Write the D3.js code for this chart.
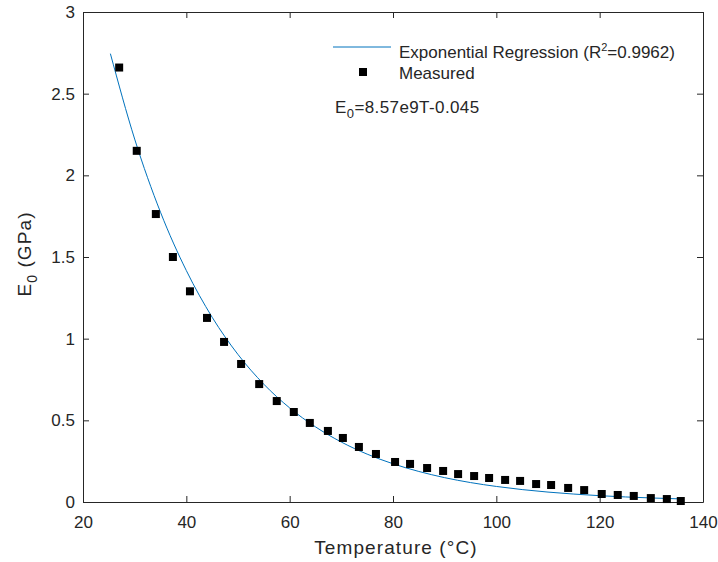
<!DOCTYPE html>
<html>
<head>
<meta charset="utf-8">
<script src="https://cdn.jsdelivr.net/npm/d3@7"></script>
<style>
body { margin: 0; background: #fff; }
text { font-family: "Liberation Sans", Arial, sans-serif; fill: #262626; }
</style>
</head>
<body>
<svg id="chart" width="718" height="562"></svg>
<script>
// measured points (temperature in C, modulus in GPa)
var tempMeasured = [27.0, 30.4, 34.1, 37.4, 40.7, 44.0, 47.3, 50.6, 54.1, 57.5, 60.8, 63.9, 67.4, 70.3, 73.4, 76.7,
  80.4, 83.3, 86.6, 89.7, 92.6, 95.7, 98.6, 101.7, 104.6, 107.7, 110.6, 113.9, 117.0, 120.4, 123.5, 126.6, 129.9, 133.0, 135.7];
var e0Measured = [2.66, 2.15, 1.763, 1.50, 1.29, 1.127, 0.98, 0.845, 0.722, 0.618, 0.551, 0.484, 0.435, 0.392, 0.337, 0.294,
  0.245, 0.233, 0.208, 0.19, 0.171, 0.159, 0.147, 0.135, 0.129, 0.110, 0.104, 0.086, 0.073, 0.049, 0.043, 0.037, 0.024, 0.018, 0.006];

// regression curve values
var tempFit = [25.3, 30, 35, 40, 45, 50, 55, 60, 65, 70, 75, 80, 85, 90, 95, 100, 105, 110, 115, 120, 125, 130, 135, 136];
var e0Fit = [2.745, 2.222, 1.774, 1.417, 1.131, 0.903, 0.721, 0.576, 0.460, 0.367, 0.293, 0.234, 0.187, 0.149, 0.119,
  0.0952, 0.0760, 0.0607, 0.0485, 0.0387, 0.0309, 0.0247, 0.0197, 0.0188];

var xTicks = [20, 40, 60, 80, 100, 120, 140];
var yTicks = [0, 0.5, 1, 1.5, 2, 2.5, 3];

var svg = d3.select("#chart");
var plotLeft = 83, plotRight = 703, plotTop = 12, plotBottom = 502;
var axisColor = "#262626";
var lineColor = "#0072BD";

var x = d3.scaleLinear().domain([20, 140]).range([plotLeft, plotRight]);
var y = d3.scaleLinear().domain([0, 3]).range([plotBottom, plotTop]);

// axes with inward ticks, mirrored on top/right
svg.append("g").attr("transform", "translate(0," + plotBottom + ")")
  .call(d3.axisBottom(x).tickValues(xTicks).tickSize(-6).tickPadding(14).tickSizeOuter(0).tickFormat(d3.format("d")))
  .call(function(g){ g.selectAll("text").style("font-size", "17px").attr("fill", axisColor); });
svg.append("g").attr("transform", "translate(0," + plotTop + ")")
  .call(d3.axisTop(x).tickValues(xTicks).tickSize(-6).tickSizeOuter(0).tickFormat(""));
svg.append("g").attr("transform", "translate(" + plotLeft + ",0)")
  .call(d3.axisLeft(y).tickValues(yTicks).tickSize(-6).tickPadding(8).tickSizeOuter(0).tickFormat(d3.format("")))
  .call(function(g){ g.selectAll("text").style("font-size", "17px").attr("fill", axisColor); });
svg.append("g").attr("transform", "translate(" + plotRight + ",0)")
  .call(d3.axisRight(y).tickValues(yTicks).tickSize(-6).tickSizeOuter(0).tickFormat(""));
svg.selectAll(".domain, .tick line").attr("stroke", axisColor);

// fitted curve
var line = d3.line().x(function(d){ return x(d[0]); }).y(function(d){ return y(d[1]); }).curve(d3.curveMonotoneX);
svg.append("path").datum(d3.zip(tempFit, e0Fit))
  .attr("d", line).attr("fill", "none").attr("stroke", lineColor).attr("stroke-width", 1);

// measured squares
svg.append("g").selectAll("rect").data(d3.zip(tempMeasured, e0Measured)).enter()
  .append("rect")
  .attr("x", function(d){ return x(d[0]) - 4; })
  .attr("y", function(d){ return y(d[1]) - 4; })
  .attr("width", 8).attr("height", 8).attr("fill", "#000");

// axis labels
svg.append("text").attr("x", 396).attr("y", 554).attr("text-anchor", "middle")
  .style("font-size", "19px").style("letter-spacing", "1.1px").text("Temperature  (°C)");
var yl = svg.append("text").attr("transform", "translate(31,254) rotate(-90)")
  .attr("text-anchor", "middle").style("font-size", "19px").style("letter-spacing", "1.1px");
yl.append("tspan").text("E");
yl.append("tspan").attr("dy", 6).style("font-size", "14px").text("0");
yl.append("tspan").attr("dy", -6).text(" (GPa)");

// legend
svg.append("line").attr("x1", 333).attr("x2", 391).attr("y1", 47).attr("y2", 47)
  .attr("stroke", lineColor).attr("stroke-width", 1);
var lt = svg.append("text").attr("x", 399).attr("y", 58).style("font-size", "17px");
lt.append("tspan").text("Exponential Regression (R");
lt.append("tspan").attr("dy", -7).style("font-size", "11px").text("2");
lt.append("tspan").attr("dy", 7).text("=0.9962)");
svg.append("rect").attr("x", 359).attr("y", 68).attr("width", 8).attr("height", 8).attr("fill", "#000");
svg.append("text").attr("x", 399).attr("y", 79).style("font-size", "17px").text("Measured");

var eq = svg.append("text").attr("x", 335).attr("y", 113).style("font-size", "17px").style("letter-spacing", "0.4px");
eq.append("tspan").text("E");
eq.append("tspan").attr("dy", 5).style("font-size", "13px").text("0");
eq.append("tspan").attr("dy", -5).text("=8.57e9T-0.045");
</script>
</body>
</html>
